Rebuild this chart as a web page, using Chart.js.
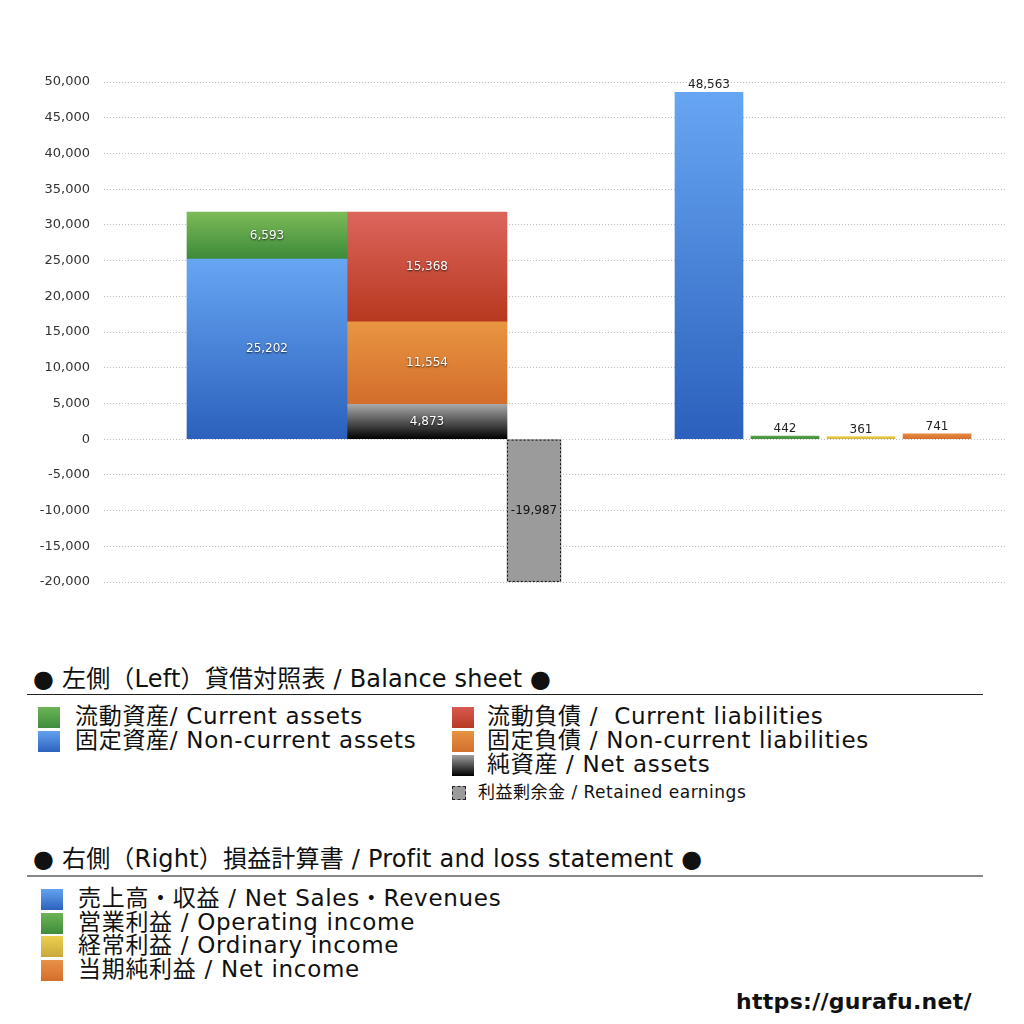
<!DOCTYPE html>
<html lang="ja">
<head>
<meta charset="utf-8">
<script src="https://cdn.jsdelivr.net/npm/chart.js@4.4.1/dist/chart.umd.min.js"></script>
<style>
    body { margin: 0; background: #fff; font-family: "DejaVu Sans", "Noto Sans CJK JP", sans-serif; color: #111; }
    #grafico-wrap { position: absolute; left: 0; top: 0; width: 1024px; height: 640px; }
    .t { position: absolute; white-space: nowrap; line-height: 1; }
    .h { font-size: 24px; letter-spacing: 0.2px; }
    .item { font-size: 23px; letter-spacing: 0.7px; }
    .small { font-size: 17px; letter-spacing: 0.5px; }
    .sq { position: absolute; width: 22px; height: 21px; }
    .rule { position: absolute; left: 27px; width: 956px; }
</style>
</head>
<body>
<div id="grafico-wrap"><canvas id="graficoBS"></canvas></div>

<!-- leyenda izquierda -->
<div class="t h" style="left:33px; top:667px;">● 左側（Left）貸借対照表 / Balance sheet ●</div>
<div class="rule" style="top:694px; height:1px; background:#222;"></div>

<div class="sq" style="left:38px; top:707px; background:linear-gradient(#6cb455,#3f8c3c);"></div>
<div class="t item" style="left:75px; top:705px;">流動資産/ Current assets</div>
<div class="sq" style="left:38px; top:731px; background:linear-gradient(#64a2ef,#2c62bd);"></div>
<div class="t item" style="left:75px; top:729px;">固定資産/ Non-current assets</div>

<div class="sq" style="left:452px; top:707px; background:linear-gradient(#d85a50,#b83a22);"></div>
<div class="t item" style="left:487px; top:705px;">流動負債 /&nbsp; Current liabilities</div>
<div class="sq" style="left:452px; top:731px; background:linear-gradient(#e69442,#d36f2e);"></div>
<div class="t item" style="left:487px; top:729px;">固定負債 / Non-current liabilities</div>
<div class="sq" style="left:452px; top:755px; background:linear-gradient(#a0a0a0,#000);"></div>
<div class="t item" style="left:487px; top:753px;">純資産 / Net assets</div>
<div class="sq" style="left:452px; top:786px; width:12px; height:12px; background:#9b9b9b; border:1px dashed #222;"></div>
<div class="t small" style="left:478px; top:784px;">利益剰余金 / Retained earnings</div>

<!-- leyenda derecha -->
<div class="t h" style="left:33px; top:847px;">● 右側（Right）損益計算書 / Profit and loss statement ●</div>
<div class="rule" style="top:875px; height:2px; background:#888;"></div>

<div class="sq" style="left:41px; top:889px; background:linear-gradient(#64a2ef,#2c62bd);"></div>
<div class="t item" style="left:78px; top:887px;">売上高・収益 / Net Sales・Revenues</div>
<div class="sq" style="left:41px; top:913px; background:linear-gradient(#6cb455,#3f8c3c);"></div>
<div class="t item" style="left:78px; top:911px;">営業利益 / Operating income</div>
<div class="sq" style="left:41px; top:936px; background:linear-gradient(#ecd04f,#c9a83a);"></div>
<div class="t item" style="left:78px; top:934px;">経常利益 / Ordinary income</div>
<div class="sq" style="left:41px; top:960px; background:linear-gradient(#e89048,#d46f2c);"></div>
<div class="t item" style="left:78px; top:958px;">当期純利益 / Net income</div>

<div class="t" style="left:736px; top:991px; font-size:22px; font-weight:bold; letter-spacing:0.3px;">https://gurafu.net/</div>

<script>
// datos: balance (izquierda) y resultados (derecha)
const bsColumns = ['資産', '負債・純資産'];
const assetNames = ['固定資産', '流動資産'];
const assetValues = [25202, 6593];
const liabNames = ['純資産', '固定負債', '流動負債'];
const liabValues = [4873, 11554, 15368];
const retainedNames = ['利益剰余金'];
const retainedValues = [-19987];
const plNames = ['売上高・収益', '営業利益', '経常利益', '当期純利益'];
const plValues = [48563, 442, 361, 741];
const yMin = -20000;
const yMax = 50000;
const yStep = 5000;

// colores (arriba, abajo)
const assetColors = [['#67a6f3', '#2b60bc'], ['#7cbb58', '#3d8a39']];
const liabColors = [['#a8a8a8', '#000000'], ['#e89641', '#d36d2c'], ['#dc655d', '#b8381f']];
const plColors = [['#67a6f3', '#2b60bc'], ['#5aa24a', '#3f8c3c'], ['#ecd04f', '#d2b03c'], ['#e68a40', '#d46f2c']];

const fontFam = '"DejaVu Sans", "Noto Sans CJK JP", sans-serif';
const fmt = v => v.toLocaleString('en-US');

function grad(pair, lo, hi) {
    return function (c) {
        const y = c.chart.scales.y;
        if (!y) return pair[0];
        const y0 = y.getPixelForValue(hi);
        const y1 = y.getPixelForValue(lo);
        if (!isFinite(y0) || !isFinite(y1) || y0 === y1) return pair[0];
        const g = c.chart.ctx.createLinearGradient(0, y0, 0, y1);
        g.addColorStop(0, pair[0]);
        g.addColorStop(1, pair[1]);
        return g;
    };
}

// grouped:false -> cada barra queda centrada en su valor x
const datasets = [];
function addStack(names, values, colors, col) {
    let base = 0;
    values.forEach((v, i) => {
        datasets.push({
            label: names[i],
            data: [{ x: col, y: v }],
            xAxisID: 'xBS',
            stack: 'all',
            grouped: false,
            barThickness: 160,
            backgroundColor: grad(colors[i], base, base + v),
            labelStyle: 'inside'
        });
        base += v;
    });
}
addStack(assetNames, assetValues, assetColors, bsColumns.indexOf('資産'));
addStack(liabNames, liabValues, liabColors, bsColumns.indexOf('負債・純資産'));

datasets.push({
    label: retainedNames[0],
    data: retainedValues.map((v, i) => ({ x: i, y: v })),
    xAxisID: 'xRE',
    stack: 'all',
    grouped: false,
    barThickness: 54,
    backgroundColor: '#9b9b9b',
    labelStyle: 'center',
    dashed: true
});

datasets.push({
    label: 'PL',
    data: plValues.map((v, i) => ({ x: i, y: v })),
    xAxisID: 'xPL',
    stack: 'all',
    grouped: false,
    barThickness: 68,
    backgroundColor: c => grad(plColors[c.dataIndex], 0, plValues[c.dataIndex])(c),
    labelStyle: 'top'
});

// etiquetas de valores y borde punteado
const valueLabels = {
    id: 'valueLabels',
    afterDatasetsDraw(chart) {
        const ctx = chart.ctx;
        chart.data.datasets.forEach((ds, i) => {
            const meta = chart.getDatasetMeta(i);
            meta.data.forEach((bar, j) => {
                const v = ds.data[j].y;
                const top = Math.min(bar.y, bar.base);
                const bottom = Math.max(bar.y, bar.base);
                ctx.save();
                if (ds.dashed) {
                    ctx.strokeStyle = '#111';
                    ctx.lineWidth = 1;
                    ctx.setLineDash([2, 2]);
                    ctx.strokeRect(bar.x - bar.width / 2 + 0.5, top + 0.5, bar.width - 1, bottom - top - 1);
                    ctx.setLineDash([]);
                }
                ctx.font = '12px ' + fontFam;
                ctx.textAlign = 'center';
                if (ds.labelStyle === 'inside') {
                    ctx.textBaseline = 'middle';
                    ctx.fillStyle = '#fff';
                    ctx.shadowColor = 'rgba(0,0,0,0.8)';
                    ctx.shadowBlur = 2;
                    ctx.shadowOffsetY = 1;
                    ctx.fillText(fmt(v), bar.x, (top + bottom) / 2);
                } else if (ds.labelStyle === 'center') {
                    ctx.textBaseline = 'middle';
                    ctx.fillStyle = '#111';
                    ctx.fillText(fmt(v), bar.x, (top + bottom) / 2);
                } else {
                    ctx.textBaseline = 'bottom';
                    ctx.fillStyle = '#222';
                    ctx.fillText(fmt(v), bar.x, top - 1);
                }
                ctx.restore();
            });
        });
    }
};

// ejes x ocultos: solo ubican las columnas
const hiddenX = (min, max) => ({
    type: 'linear', display: false, offset: false, min: min, max: max
});

const ctx = document.getElementById('graficoBS').getContext('2d');
new Chart(ctx, {
    type: 'bar',
    data: { datasets: datasets },
    options: {
        responsive: true,
        maintainAspectRatio: false,
        animation: false,
        layout: { padding: { top: 82, right: 19, bottom: 58, left: 0 } },
        plugins: { legend: { display: false }, tooltip: { enabled: false } },
        scales: {
            xBS: hiddenX(-1.01875, 4.6125),
            xRE: hiddenX(-1, 1.0953),
            xPL: hiddenX(-7.9605, 3.8947),
            y: {
                stacked: true,
                min: yMin,
                max: yMax,
                ticks: {
                    stepSize: yStep,
                    color: '#333',
                    padding: 14,
                    font: { size: 13, family: fontFam },
                    callback: v => fmt(v)
                },
                grid: { color: '#bdbdbd', drawTicks: false, lineWidth: 1 },
                border: { display: false, dash: [1, 2] },
                afterFit: s => { s.width = 104; }
            }
        }
    },
    plugins: [valueLabels]
});
</script>
</body>
</html>
